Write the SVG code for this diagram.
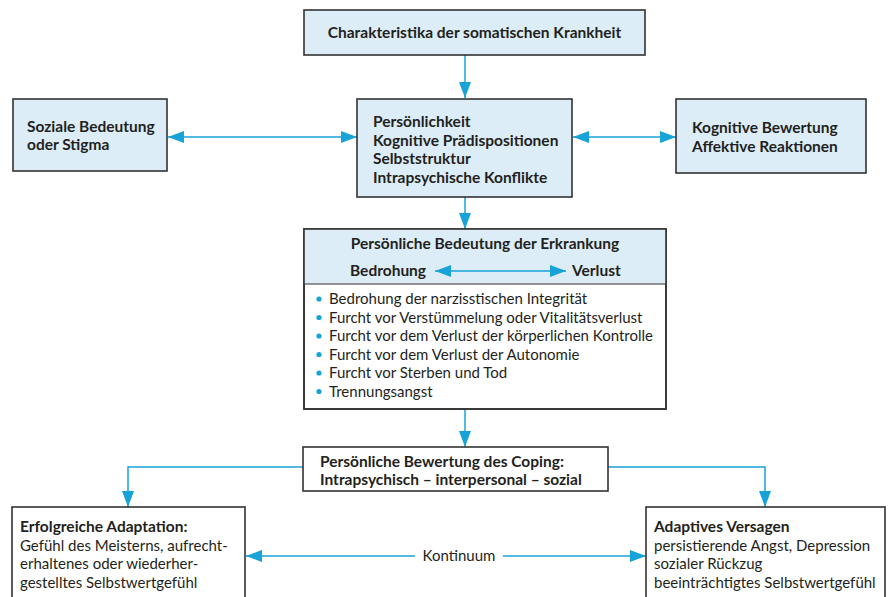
<svg xmlns="http://www.w3.org/2000/svg" width="891" height="597" viewBox="0 0 891 597">
  <defs>
    <marker id="ah" viewBox="0 0 16 12" refX="16" refY="6" markerWidth="16" markerHeight="12" markerUnits="userSpaceOnUse" orient="auto-start-reverse">
      <path d="M0,0 L16,6 L0,12 Z" fill="#17a2d8"/>
    </marker>
  </defs>
  <style>
    .box { fill: #dcedf8; stroke: #333333; stroke-width: 1.6; }
    .wbox { fill: #ffffff; stroke: #333333; stroke-width: 1.6; }
    .sep { stroke: #333333; stroke-width: 1.2; }
    .con { fill: none; stroke: #17a2d8; stroke-width: 1.5; }
    text { font-family: "Lato", "Liberation Sans", Arial, sans-serif; fill: #231f20; font-size: 15px; }
    .b { font-weight: bold; font-size: 15.5px; }
    .c { text-anchor: middle; }
    .dot { fill: #17a2d8; }
  </style>
  <rect width="891" height="597" fill="#ffffff"/>

  <g id="connectors">
    <line class="con" x1="465" y1="55" x2="465" y2="98" marker-end="url(#ah)"/>
    <line class="con" x1="168" y1="137" x2="357" y2="137" marker-start="url(#ah)" marker-end="url(#ah)"/>
    <line class="con" x1="573" y1="137" x2="676" y2="137" marker-start="url(#ah)" marker-end="url(#ah)"/>
    <line class="con" x1="465" y1="197" x2="465" y2="229" marker-end="url(#ah)"/>
    <line class="con" x1="465" y1="409" x2="465" y2="447" marker-end="url(#ah)"/>
    <polyline class="con" points="303,467 128,467 128,507" marker-end="url(#ah)"/>
    <polyline class="con" points="608,467 765,467 765,507" marker-end="url(#ah)"/>
    <line class="con" x1="415" y1="556" x2="246" y2="556" marker-end="url(#ah)"/>
    <line class="con" x1="503" y1="556" x2="646" y2="556" marker-end="url(#ah)"/>
    <text x="459" y="561" class="c">Kontinuum</text>
  </g>

  <g id="krankheit">
    <rect class="box" x="304" y="10" width="341" height="45"/>
    <text x="474.5" y="38" class="b c">Charakteristika der somatischen Krankheit</text>
  </g>

  <g id="stigma">
    <rect class="box" x="13" y="99" width="154" height="72"/>
    <text x="27" y="132" class="b">Soziale Bedeutung</text>
    <text x="27" y="150" class="b">oder Stigma</text>
  </g>

  <g id="persoenlichkeit">
    <rect class="box" x="357" y="99" width="215" height="98"/>
    <text x="373" y="127" class="b">Persönlichkeit</text>
    <text x="373" y="145.5" class="b">Kognitive Prädispositionen</text>
    <text x="373" y="164" class="b">Selbststruktur</text>
    <text x="373" y="182.5" class="b">Intrapsychische Konflikte</text>
  </g>

  <g id="bewertung">
    <rect class="box" x="676" y="99" width="190" height="74"/>
    <text x="692" y="133" class="b">Kognitive Bewertung</text>
    <text x="692" y="151.5" class="b">Affektive Reaktionen</text>
  </g>

  <g id="bedeutung">
    <rect class="wbox" x="304" y="229" width="362" height="180"/>
    <rect class="box" x="304" y="229" width="362" height="55" style="stroke:none"/>
    <line class="sep" x1="304" y1="284" x2="666" y2="284"/>
    <rect x="304" y="229" width="362" height="180" fill="none" stroke="#333333" stroke-width="1.6"/>
    <text x="485" y="249" class="b c">Persönliche Bedeutung der Erkrankung</text>
    <text x="350" y="276" class="b">Bedrohung</text>
    <text x="572" y="276" class="b">Verlust</text>
    <line class="con" x1="435" y1="271" x2="566" y2="271" marker-start="url(#ah)" marker-end="url(#ah)"/>
    <circle class="dot" cx="319" cy="299" r="2.6"/>
    <circle class="dot" cx="319" cy="317.5" r="2.6"/>
    <circle class="dot" cx="319" cy="336" r="2.6"/>
    <circle class="dot" cx="319" cy="354.5" r="2.6"/>
    <circle class="dot" cx="319" cy="373" r="2.6"/>
    <circle class="dot" cx="319" cy="391.5" r="2.6"/>
    <text x="329" y="304">Bedrohung der narzisstischen Integrität</text>
    <text x="329" y="322.5">Furcht vor Verstümmelung oder Vitalitätsverlust</text>
    <text x="329" y="341">Furcht vor dem Verlust der körperlichen Kontrolle</text>
    <text x="329" y="359.5">Furcht vor dem Verlust der Autonomie</text>
    <text x="329" y="378">Furcht vor Sterben und Tod</text>
    <text x="329" y="396.5">Trennungsangst</text>
  </g>

  <g id="coping">
    <rect class="wbox" x="303" y="447" width="305" height="44"/>
    <text x="320" y="467" class="b">Persönliche Bewertung des Coping:</text>
    <text x="320" y="484.5" class="b">Intrapsychisch – interpersonal – sozial</text>
  </g>

  <g id="adaptation">
    <rect class="wbox" x="12" y="507" width="233" height="96"/>
    <text x="20" y="532" class="b">Erfolgreiche Adaptation:</text>
    <text x="20" y="551">Gefühl des Meisterns, aufrecht-</text>
    <text x="20" y="569">erhaltenes oder wiederher-</text>
    <text x="20" y="587.5">gestelltes Selbstwertgefühl</text>
  </g>

  <g id="versagen">
    <rect class="wbox" x="646" y="507" width="239" height="96"/>
    <text x="654" y="532" class="b">Adaptives Versagen</text>
    <text x="654" y="551">persistierende Angst, Depression</text>
    <text x="654" y="569">sozialer Rückzug</text>
    <text x="654" y="587.5">beeinträchtigtes Selbstwertgefühl</text>
  </g>
</svg>
